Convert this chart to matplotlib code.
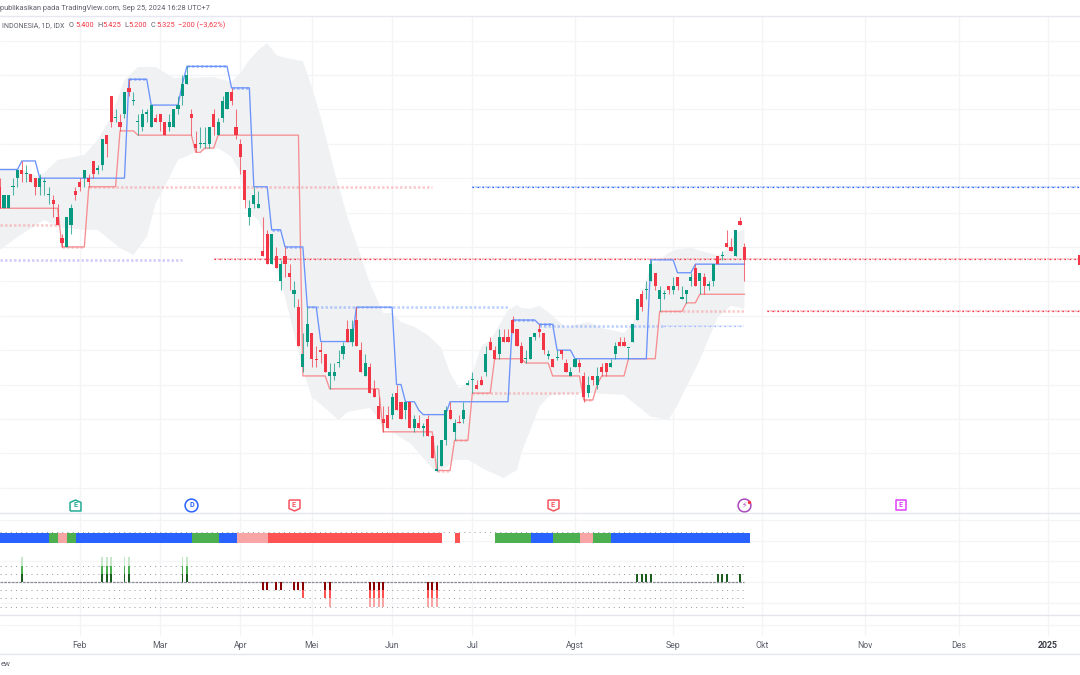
# BBNI daily chart with step channel, bands and signal panel
import numpy as np
import matplotlib
matplotlib.use('Agg')
import matplotlib.pyplot as plt
from matplotlib.lines import Line2D
from matplotlib.path import Path

plt.rcParams['font.family'] = ['Roboto', 'DejaVu Sans']

# OHLC per trading day
opens = [5750,5625,5625,5750,5800,5850,5825,5825,5800,5750,
         5775,5700,5675,5575,5450,5400,5525,5725,5775,5800,
         5800,5900,5850,5875,6050,6275,6150,6125,6175,6325,
         6250,6125,6100,6175,6100,6150,6175,6125,6100,6100,
         6200,6275,6350,6175,6000,6000,6000,6000,6175,6050,
         6150,6200,6300,6100,6000,5850,5575,5650,5625,5375,
         5475,5300,5350,5200,5350,5250,5125,5050,4700,4850,
         4900,4750,4800,4775,4650,4650,4725,4775,4925,4850,
         4975,4800,4650,4700,4575,4475,4400,4425,4425,4550,
         4500,4450,4500,4350,4375,4350,4400,4300,4100,4125,
         4275,4450,4325,4385,4400,4600,4625,4600,4625,4675,
         4850,4800,4775,4875,4875,4975,4925,4825,4750,4750,
         4875,4920,4900,4765,4750,4755,4800,4725,4650,4700,
         4725,4650,4550,4650,4600,4700,4725,4700,4775,4850,
         4850,4810,4850,4975,5125,5150,5200,5250,5100,5125,
         5175,5150,5225,5100,5125,5200,5275,5200,5225,5175,
         5200,5350,5345,5425,5400,5350,5550,5400]
highs = [5800,5700,5700,5800,5850,5900,5875,5825,5800,5825,
         5800,5750,5700,5650,5475,5575,5650,5750,5800,5850,
         5825,5900,5875,6025,6050,6275,6200,6175,6300,6375,
         6300,6175,6200,6200,6225,6175,6175,6125,6175,6200,
         6275,6400,6450,6200,6075,6100,6100,6100,6200,6150,
         6275,6300,6325,6200,6025,5850,5675,5750,5725,5575,
         5500,5475,5400,5325,5400,5300,5200,5100,4900,5050,
         4900,4825,4850,4775,4725,4725,4800,4850,4975,4975,
         5050,4850,4775,4725,4625,4525,4475,4475,4550,4600,
         4500,4500,4500,4425,4425,4375,4425,4300,4250,4275,
         4475,4500,4400,4425,4500,4625,4675,4625,4650,4825,
         4875,4825,4925,4925,4925,5000,4925,4850,4800,4875,
         4900,4950,4900,4800,4750,4800,4800,4750,4700,4750,
         4750,4675,4650,4650,4700,4725,4725,4750,4850,4875,
         4875,4815,4950,5100,5150,5200,5325,5250,5175,5150,
         5175,5225,5225,5175,5150,5250,5300,5250,5250,5200,
         5300,5350,5375,5500,5450,5500,5575,5425]
lows = [5625,5625,5625,5700,5750,5775,5775,5775,5700,5700,
        5700,5650,5575,5525,5400,5400,5475,5675,5725,5750,
        5750,5800,5825,5850,5925,6100,6125,6075,6150,6275,
        6225,6050,6075,6125,6100,6125,6075,6050,6075,6100,
        6175,6225,6350,6050,5950,5975,5975,5975,6050,6050,
        6125,6200,6225,6025,5825,5625,5525,5625,5625,5350,
        5300,5300,5275,5150,5225,5150,5050,4825,4675,4825,
        4700,4700,4725,4675,4575,4625,4700,4750,4850,4825,
        4825,4675,4650,4550,4525,4400,4325,4350,4400,4450,
        4400,4400,4350,4325,4350,4300,4300,4175,4100,4125,
        4250,4400,4275,4375,4375,4600,4550,4575,4600,4650,
        4800,4750,4750,4850,4850,4900,4825,4725,4725,4750,
        4860,4875,4775,4750,4700,4740,4750,4675,4650,4700,
        4675,4500,4525,4600,4575,4650,4650,4700,4750,4825,
        4825,4750,4850,4975,5025,5100,5200,5150,5025,5100,
        5125,5125,5150,5100,5075,5175,5175,5125,5125,5150,
        5175,5300,5325,5400,5375,5350,5525,5200]
closes = [5625,5700,5700,5750,5850,5825,5825,5775,5750,5800,
          5775,5700,5650,5525,5425,5575,5625,5700,5750,5850,
          5775,5825,5850,6025,6000,6125,6150,6100,6300,6300,
          6250,6125,6175,6175,6225,6125,6125,6050,6125,6200,
          6225,6350,6400,6150,5975,6000,6000,6100,6100,6125,
          6250,6300,6250,6050,5925,5675,5625,5700,5650,5350,
          5300,5475,5275,5300,5300,5225,5150,4825,4775,4950,
          4750,4740,4790,4675,4675,4675,4725,4825,4850,4925,
          4825,4675,4725,4550,4525,4400,4375,4350,4525,4450,
          4400,4500,4350,4400,4350,4350,4300,4175,4100,4275,
          4450,4400,4375,4375,4450,4600,4625,4575,4600,4775,
          4800,4750,4875,4850,4850,4900,4825,4725,4750,4875,
          4900,4905,4800,4780,4700,4760,4775,4675,4675,4750,
          4700,4525,4600,4625,4650,4675,4675,4725,4825,4825,
          4825,4815,4950,5100,5050,5155,5300,5175,5150,5130,
          5150,5175,5175,5105,5150,5225,5175,5250,5175,5180,
          5300,5300,5350,5400,5375,5500,5525,5325]

# step channel, level and how many bars it holds
upper_levels = [5850,5900,5800,6375,6225,6350,6450,6325,5750,5500,5400,5050,4850,
                5050,4600,4500,4450,4425,4500,4975,4950,4800,4750,5325,5250,5300]
upper_counts = [5,4,20,5,7,1,10,5,4,3,5,3,8,9,2,3,1,6,14,6,4,4,17,6,4,12]
lower_levels = [5625,5400,5750,6075,6050,5950,5975,6050,4650,4575,4325,4100,4275,
                4550,4750,4725,4650,4510,4600,4650,4750,5025,5075,5125]
lower_counts = [14,6,7,4,13,2,3,19,6,12,12,4,4,5,7,6,7,3,1,6,7,6,3,11]

# band outline
band_up_bars = [0,4,9,13,19,22,25,28,31,35,39,42,48,52,54,56,58,60,62,64,68,70,72,75,78,
                80,83,86,88,90,93,96,99,101,103,105,106,108,110,111,114,116,117,119,121,
                123,125,127,129,132,135,140,142,143,145,146,148,150,152,155,158,161,163,165,167]
band_up = [5859,5859,5807,5906,5935,6022,6156,6371,6446,6446,6383,6383,6388,6359,6412,6487,
           6545,6586,6516,6499,6481,6330,6156,5848,5574,5423,5191,5016,5016,4964,4935,4888,
           4813,4667,4580,4598,4667,4819,4859,4900,5034,5063,5045,5040,5057,5022,4975,4929,
           4946,4964,4929,4900,4958,5051,5196,5295,5324,5365,5388,5394,5371,5353,5382,5487,5499]
band_low_bars = [0,4,10,13,19,22,27,30,33,35,37,40,44,49,52,54,55,56,58,61,64,68,70,74,76,
                 78,83,87,92,98,100,102,105,109,113,116,117,119,121,123,124,132,140,146,150,
                 152,157,161,164,167]
band_low = [5382,5458,5557,5516,5499,5499,5394,5353,5458,5656,5749,5906,5952,5975,5923,5830,
            5673,5598,5557,5365,5109,4685,4528,4440,4394,4440,4464,4336,4260,4086,4115,4162,
            4162,4103,4057,4103,4202,4336,4470,4528,4540,4551,4540,4412,4394,4481,4743,4992,
            5058,5040]

# dotted levels: price, first bar, last bar, colour
wide_prices = [5750,5525,5325,5050,4550,4940,5025,6450,6375,6325,5500,5400,5400,4100,4275,4510,4975,4950]
wide_starts = [20,0,0,69,106,121,148,42,29,52,61,64,14,98,102,131,115,121]
wide_ends = [97,13,41,114,130,149,167,51,33,56,63,68,19,101,105,133,120,124]
wide_colors = ['#f77c80','#f77c80','#8f7df0','#5b8cff','#f77c80','#5b8cff','#f77c80','#2962ff','#2962ff',
               '#2962ff','#2962ff','#2962ff','#f77c80','#f77c80','#f77c80','#f77c80','#2962ff','#2962ff']
thin_prices = [5750,5330,5025,4940]
thin_starts = [106,48,172,149]
thin_colors = ['#2962ff','#f23645','#f23645','#9db8ff']

# state strip
state_names = ['blue','green','pink','green','blue','green','blue','pink','red',None,'red',None,
               'green','blue','green','pink','green','blue']
state_counts = [11,2,2,2,26,6,4,7,39,3,1,8,8,5,6,3,4,31]
state_colors = {'blue':'#2962ff','green':'#4caf50','pink':'#f7a5a5','red':'#ff5252'}

# signal columns
signal_bars = [5,23,24,25,28,29,41,42,59,60,62,63,66,67,68,73,74,83,84,85,86,96,97,98,
               143,144,145,146,161,162,163,166]
signal_vals = [3,3,3,3,3,3,3,3,-1,-1,-1,-1,-1,-1,-2,-2,-3,-3,-3,-3,-3,-3,-3,-3,
               1,1,1,1,1,1,1,1]

# axis
month_bars = [18,36,54,70,88,106,129,151,171,194,215,235]
month_labels = ['Feb','Mar','Apr','Mei','Jun','Jul','Agst','Sep','Okt','Nov','Des','2025']
grid_prices = np.arange(4000, 6800, 200)
signal_grid = [7.6,5.0,2.5,0,-2.5]

XLIM = (0.09, 242.24)
W, H = 1080, 675
GRID = '#f3f4f6'
SEP = '#e4e6ec'
RED = '#f23645'
GREEN = '#089981'


def box(top, bottom):
    return [0, 1 - bottom / H, 1, (bottom - top) / H]


fig = plt.figure(figsize=(W / 100, H / 100), dpi=100, facecolor='white')
ax = fig.add_axes(box(16.5, 513))
ax2 = fig.add_axes(box(513, 615))
ax3 = fig.add_axes(box(615, 636))

for a in [ax, ax2, ax3]:
    a.set_xlim(XLIM)
    for s in a.spines.values():
        s.set_visible(False)
    a.set_yticks([])
    a.set_xticks(month_bars)
    a.tick_params(axis='x', length=0, labelbottom=False)
    a.grid(axis='x', color=GRID, lw=0.9)
    a.set_axisbelow(True)

# price panel
ax.set_ylim(3853, 6740)
ax.hlines(grid_prices, *XLIM, color=GRID, lw=0.9, zorder=0)

ax.fill(band_up_bars + band_low_bars[::-1], band_up + band_low[::-1], color='#eff1f3', lw=0, zorder=1)

for p, s, e, c in zip(wide_prices, wide_starts, wide_ends, wide_colors):
    ax.plot([s, e], [p, p], color=c, lw=1.8, ls=(0, (1, 0.8)), alpha=0.4, zorder=2)
for p, s, c in zip(thin_prices, thin_starts, thin_colors):
    end = 167 if p == 4940 else XLIM[1]
    ax.plot([s, end], [p, p], color=c, lw=1.4, ls=(0, (1.2, 0.5)), alpha=0.3, zorder=2)
    ax.plot([s, end], [p, p], color=c, lw=0.9, ls=(0, (1.2, 2.8)), zorder=2)

bars = np.arange(len(closes))
upper_line = np.repeat(upper_levels, upper_counts)
lower_line = np.repeat(lower_levels, lower_counts)
ax.plot(bars, lower_line, color='#f78e91', lw=0.95, zorder=3)
ax.plot(bars, upper_line, color='#6c93fb', lw=0.95, zorder=3)

o = np.array(opens)
c = np.array(closes)
colors = np.where(c >= o, GREEN, RED)
ax.vlines(bars, lows, highs, color=colors, lw=0.75, alpha=0.7, zorder=4)
ax.bar(bars, np.maximum(np.abs(c - o), 7), bottom=np.minimum(o, c), width=0.7, color=colors, lw=0, zorder=5)

# clipped last price tag
ax.barh(5325, 1, left=241.8, height=58, color=RED, lw=0, zorder=6)

# event badges along the bottom of the price panel
badge_bars = [17, 43, 66, 124, 167, 202]
badge_text = ['E', 'D', 'E', 'E', '', 'E']
badge_colors = ['#22ab94', '#2962ff', '#f7525f', '#f7525f', '#ab47bc', '#e040fb']
house_up = Path([(-1, -1), (-1, 0.55), (0, 1), (1, 0.55), (1, -1), (-1, -1)])
house_down = Path([(-1, 1), (-1, -0.55), (0, -1), (1, -0.55), (1, 1), (-1, 1)])
badge_marks = [house_up, 'o', house_down, house_down, 'o', 's']
badge_tr = ax.get_xaxis_transform()
for b, t, col, m in zip(badge_bars, badge_text, badge_colors, badge_marks):
    ax.scatter([b], [0.0161], marker=m, s=85 if m == 'o' else 62, facecolor='white', edgecolor=col,
               lw=1.1, transform=badge_tr, zorder=7, clip_on=False)
    ax.text(b, 0.0161, t, color=col, fontsize=5.2, fontweight='bold', ha='center', va='center',
            transform=badge_tr, zorder=8)
ax.text(167, 0.0161, '\u26a1', color='#ab47bc', fontsize=5.5, family=['DejaVu Sans'], ha='center', va='center',
        transform=badge_tr, zorder=8)
ax.scatter([168], [0.0225], s=6, color='#f23645', lw=0, transform=badge_tr, zorder=9)

# lower panel, level 0 is the dashed line
ax2.set_ylim(-4.02, 8.41)
ax2.hlines(signal_grid, *XLIM, color=GRID, lw=0.9, zorder=0)
for lev in [2, 1, -1, -2, -3, 6.1]:
    ax2.plot([0, 167], [lev, lev], color='#9a9ea8', lw=0.7, ls=(0, (1.1, 4.2)), zorder=1)
ax2.plot([0, 167], [0, 0], color='#8a8d96', lw=0.9, ls=(0, (2.2, 0.8)), zorder=1)

pos = 0
for name, n in zip(state_names, state_counts):
    if name:
        ax2.barh(5.35, n, left=pos + 0.15, height=1.3, color=state_colors[name], lw=0, zorder=2)
    pos += n

for b, v in zip(signal_bars, signal_vals):
    if v > 0:
        shades = ['#1b5e20', '#4caf50', '#c8e6c9']
    else:
        shades = ['#8b0000', '#ff5252', '#f7a5a5']
    for k in range(abs(v)):
        sign = 1 if v > 0 else -1
        ax2.bar(b, sign, bottom=sign * k, width=0.42, color=shades[k], lw=0, zorder=3)

# bottom strip and date labels
ax3.set_ylim(0, 1)
ax3.hlines([0.52], *XLIM, color=GRID, lw=0.9)
ax3.tick_params(axis='x', labelbottom=True, pad=3.5, labelsize=6.3, labelcolor='#5d606b')
ax3.set_xticklabels(month_labels)
ax3.get_xticklabels()[-1].set_fontweight('bold')
ax3.get_xticklabels()[-1].set_color('#3a3d47')

# separators
for y, col in [(16.3, '#e6e7f0'), (513, SEP), (615, SEP), (653.5, SEP)]:
    fig.add_artist(Line2D([0, 1], [1 - y / H, 1 - y / H], color=col, lw=1.0))

# header text, pixel positions
def label(px, py, s, color='#5d606b', size=5.3, ha='left'):
    fig.text(px / W, 1 - py / H, s, color=color, fontsize=size, ha=ha, va='center')


label(0.5, 9, 'publikasikan pada TradingView.com, Sep 25, 2024 16:28 UTC+7')
label(2, 25.7, 'INDONESIA, 1D, IDX', size=5.1)
for px, s, col in [(69, 'O', '#5d606b'), (75, '5.400', RED), (97, 'H', '#5d606b'), (102, '5.425', RED),
                   (124, 'L', '#5d606b'), (128, '5.200', RED), (151, 'C', '#5d606b'), (156, '5.325', RED),
                   (178, '\u2212200 (\u22123,62%)', RED)]:
    label(px, 25.7, s, color=col)
label(0.5, 664, 'ew', size=5.6)

fig.savefig('out.png', dpi=100)
